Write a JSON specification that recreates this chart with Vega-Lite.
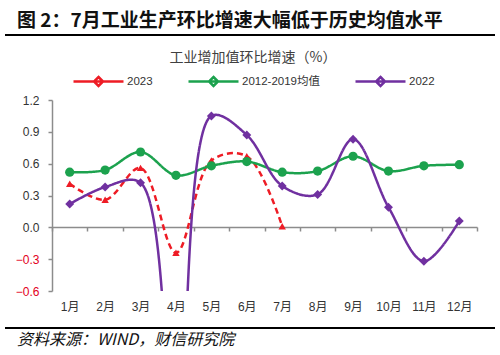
{
  "$schema": "https://vega.github.io/schema/vega-lite/v6.json",
  "padding": {"left": 5, "right": 5, "top": 12, "bottom": 1},
  "background": "white",
  "title": {
    "text": "图 2：7月工业生产环比增速大幅低于历史均值水平",
    "anchor": "start",
    "font": "Noto Sans CJK SC",
    "fontSize": 19,
    "fontWeight": "bold",
    "color": "#111111",
    "dx": 12,
    "offset": 3
  },
  "spacing": 15,
  "resolve": {"scale": {"x": "independent", "y": "independent", "color": "independent"}},
  "config": {
    "view": {"stroke": null},
    "font": "Liberation Sans",
    "title": {"fontSize": 19}
  },
  "datasets": {
    "series": [
      {"month": "1月", "series": "2023", "value": 0.41},
      {"month": "2月", "series": "2023", "value": 0.26},
      {"month": "3月", "series": "2023", "value": 0.56},
      {"month": "4月", "series": "2023", "value": -0.24},
      {"month": "5月", "series": "2023", "value": 0.63},
      {"month": "6月", "series": "2023", "value": 0.67},
      {"month": "7月", "series": "2023", "value": 0.01},
      {"month": "1月", "series": "2012-2019均值", "value": 0.52},
      {"month": "2月", "series": "2012-2019均值", "value": 0.54},
      {"month": "3月", "series": "2012-2019均值", "value": 0.71},
      {"month": "4月", "series": "2012-2019均值", "value": 0.49},
      {"month": "5月", "series": "2012-2019均值", "value": 0.58},
      {"month": "6月", "series": "2012-2019均值", "value": 0.62},
      {"month": "7月", "series": "2012-2019均值", "value": 0.52},
      {"month": "8月", "series": "2012-2019均值", "value": 0.53},
      {"month": "9月", "series": "2012-2019均值", "value": 0.67},
      {"month": "10月", "series": "2012-2019均值", "value": 0.53},
      {"month": "11月", "series": "2012-2019均值", "value": 0.58},
      {"month": "12月", "series": "2012-2019均值", "value": 0.59},
      {"month": "1月", "series": "2022", "value": 0.22},
      {"month": "2月", "series": "2022", "value": 0.38},
      {"month": "3月", "series": "2022", "value": 0.42},
      {"month": "4月", "series": "2022", "value": -2.15},
      {"month": "5月", "series": "2022", "value": 1.05},
      {"month": "6月", "series": "2022", "value": 0.87},
      {"month": "7月", "series": "2022", "value": 0.39},
      {"month": "8月", "series": "2022", "value": 0.31},
      {"month": "9月", "series": "2022", "value": 0.83},
      {"month": "10月", "series": "2022", "value": 0.19},
      {"month": "11月", "series": "2022", "value": -0.32},
      {"month": "12月", "series": "2022", "value": 0.06}
    ],
    "rules": [{"x0": 0, "x1": 1, "y0": 0, "y1": 1}]
  },
  "vconcat": [
    {
      "width": 490,
      "height": 2,
      "data": {"name": "rules"},
      "mark": {"type": "rect", "color": "#000000"},
      "encoding": {
        "x": {"field": "x0", "type": "quantitative", "scale": {"domain": [0, 1]}, "axis": null},
        "x2": {"field": "x1"},
        "y": {"field": "y0", "type": "quantitative", "scale": {"domain": [0, 1]}, "axis": null},
        "y2": {"field": "y1"}
      }
    },
    {
      "width": 490,
      "height": 191,
      "data": {"name": "series"},
      "encoding": {
        "x": {
          "field": "month",
          "type": "ordinal",
          "sort": ["1月", "2月", "3月", "4月", "5月", "6月", "7月", "8月", "9月", "10月", "11月", "12月"],
          "scale": {"type": "band", "range": [47, 472], "paddingInner": 0, "paddingOuter": 0},
          "axis": {
            "orient": "bottom",
            "offset": -64,
            "title": null,
            "tickBand": "extent",
            "labelAngle": 0,
            "labelPadding": 70,
            "labelFont": "Liberation Sans, Noto Sans CJK SC",
            "labelFontSize": 12,
            "labelColor": "#333333",
            "domainColor": "#8c8c8c",
            "domainWidth": 1.5,
            "tickColor": "#8c8c8c",
            "tickWidth": 1.5,
            "tickSize": 4,
            "grid": false
          }
        },
        "y": {
          "field": "value",
          "type": "quantitative",
          "scale": {"domain": [-0.6, 1.2], "nice": false, "zero": false},
          "axis": {
            "orient": "left",
            "offset": -47,
            "title": null,
            "values": [-0.6, -0.3, 0, 0.3, 0.6, 0.9, 1.2],
            "format": ".1f",
            "grid": false,
            "labelPadding": 9,
            "labelFontSize": 12,
            "labelFont": "Liberation Sans",
            "labelColor": {"condition": {"test": "datum.value < 0", "value": "#e3001b"}, "value": "#333333"},
            "domainColor": "#8c8c8c",
            "domainWidth": 1.5,
            "tickColor": "#8c8c8c",
            "tickWidth": 1.5,
            "tickSize": 4
          }
        }
      },
      "layer": [
        {
          "mark": {"type": "line", "interpolate": "catmull-rom", "strokeWidth": 2.5, "clip": true},
          "encoding": {
            "color": {
              "field": "series",
              "type": "nominal",
              "sort": ["2023", "2012-2019均值", "2022"],
              "scale": {"domain": ["2023", "2012-2019均值", "2022"], "range": ["#ee1c25", "#1ca24e", "#7030a0"]},
              "legend": {
                "title": "工业增加值环比增速（%）",
                "orient": "none",
                "legendX": 67,
                "legendY": -49,
                "offset": 0,
                "direction": "horizontal",
                "titleAnchor": "middle",
                "titleFont": "Noto Sans CJK SC",
                "titleFontSize": 14,
                "titleFontWeight": "normal",
                "titleColor": "#404040",
                "titlePadding": 10,
                "labelFont": "Liberation Sans, Noto Sans CJK SC",
                "labelFontSize": 11.5,
                "labelColor": "#333333",
                "symbolType": "M-1,0H9M4,-0.9L4.9,0L4,0.9L3.1,0Z",
                "symbolSize": 100,
                "symbolStrokeWidth": 2.5,
                "labelOffset": 42,
                "columnPadding": 30
              }
            },
            "strokeDash": {
              "field": "series",
              "type": "nominal",
              "scale": {"domain": ["2023", "2012-2019均值", "2022"], "range": [[6, 4], [1, 0], [1, 0]]},
              "legend": null
            }
          }
        },
        {
          "transform": [{"filter": "datum.series === '2023'"}],
          "mark": {"type": "point", "filled": true, "opacity": 1, "clip": true, "shape": "triangle-up", "size": 55, "color": "#ee1c25"}
        },
        {
          "transform": [{"filter": "datum.series === '2012-2019均值'"}],
          "mark": {"type": "point", "filled": true, "opacity": 1, "clip": true, "shape": "circle", "size": 85, "color": "#1ca24e"}
        },
        {
          "transform": [{"filter": "datum.series === '2022'"}],
          "mark": {"type": "point", "filled": true, "opacity": 1, "clip": true, "shape": "diamond", "size": 80, "color": "#7030a0"}
        }
      ]
    },
    {
      "width": 490,
      "height": 2,
      "data": {"name": "rules"},
      "mark": {"type": "rect", "color": "#000000"},
      "encoding": {
        "x": {"field": "x0", "type": "quantitative", "scale": {"domain": [0, 1]}, "axis": null},
        "x2": {"field": "x1"},
        "y": {"field": "y0", "type": "quantitative", "scale": {"domain": [0, 1]}, "axis": null},
        "y2": {"field": "y1"}
      },
      "title": {
        "text": "资料来源：WIND，财信研究院",
        "orient": "bottom",
        "anchor": "start",
        "font": "Noto Sans CJK SC",
        "fontSize": 16,
        "fontStyle": "italic",
        "fontWeight": "normal",
        "color": "#111111",
        "dx": 12,
        "offset": 3
      }
    }
  ]
}
